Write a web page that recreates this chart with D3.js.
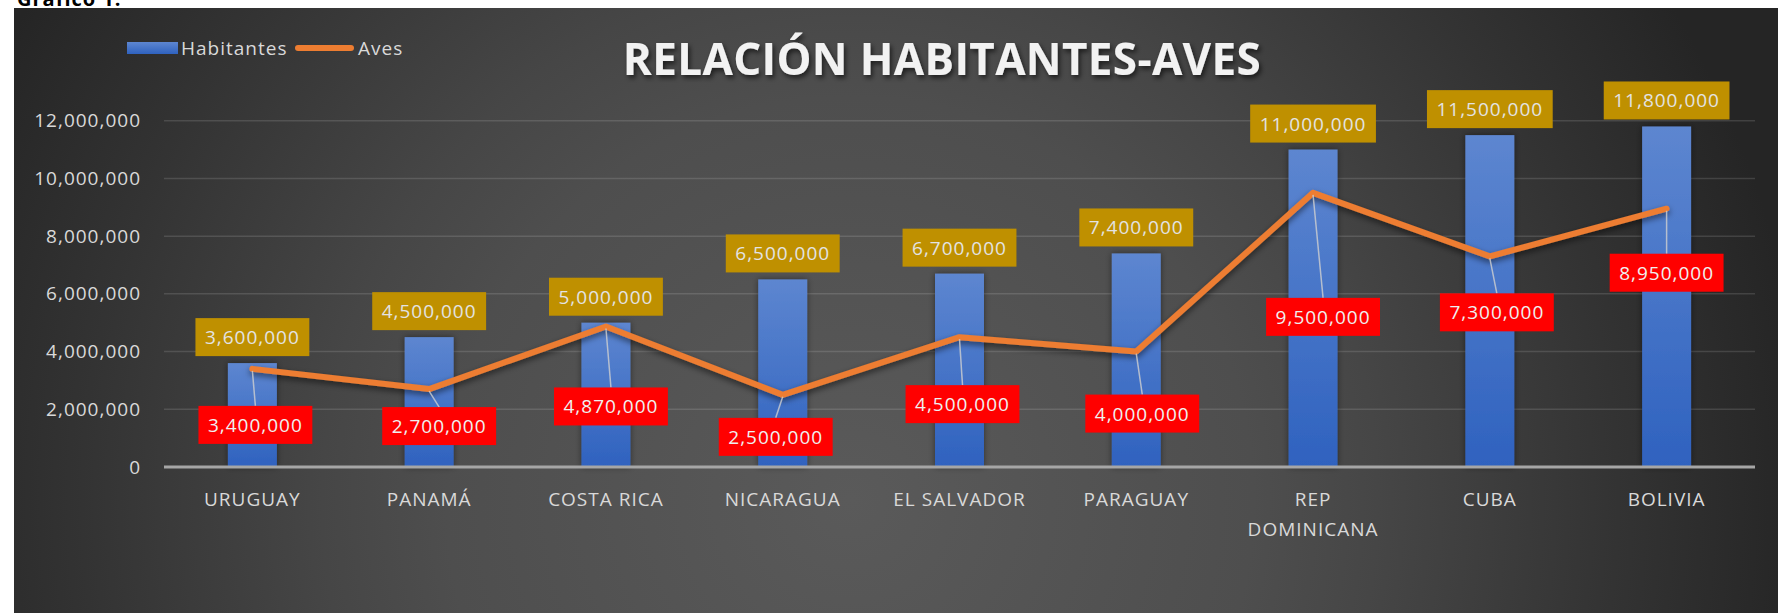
<!DOCTYPE html>
<html>
<head>
<meta charset="utf-8">
<script src="https://cdn.jsdelivr.net/npm/d3@7"></script>
<style>
  html, body { margin: 0; padding: 0; background: #fff; }
  svg { display: block; }
  text { font-family: "Open Sans", "Noto Sans", sans-serif; }
</style>
</head>
<body>
<svg id="chart" width="1778" height="613"></svg>
<script>
// data
const categories = ['URUGUAY', 'PANAMÁ', 'COSTA RICA', 'NICARAGUA', 'EL SALVADOR', 'PARAGUAY', 'REP DOMINICANA', 'CUBA', 'BOLIVIA'];
const habitantes = [3600000, 4500000, 5000000, 6500000, 6700000, 7400000, 11000000, 11500000, 11800000];
const aves = [3400000, 2700000, 4870000, 2500000, 4500000, 4000000, 9500000, 7300000, 8950000];
const yTicks = [0, 2000000, 4000000, 6000000, 8000000, 10000000, 12000000];
const seriesNames = ['Habitantes', 'Aves'];

const width = 1778;
const height = 613;
const plot = { left: 164, right: 1755, top: 120.7, bottom: 467 };

const svg = d3.select('#chart');
const defs = svg.append('defs');

// background gradient
const bg = defs.append('radialGradient')
  .attr('id', 'bg')
  .attr('gradientUnits', 'userSpaceOnUse')
  .attr('cx', 850).attr('cy', 500).attr('r', 960);
[[0, '#5a5a5a'], [0.42, '#4e4e4e'], [0.55, '#464646'], [0.8, '#333333'], [1, '#252525']]
  .forEach(([o, c]) => bg.append('stop').attr('offset', o).attr('stop-color', c));

const barGrad = defs.append('linearGradient')
  .attr('id', 'barGrad')
  .attr('x1', 0).attr('y1', 0).attr('x2', 0).attr('y2', 1);
barGrad.append('stop').attr('offset', 0).attr('stop-color', '#5d86d0');
barGrad.append('stop').attr('offset', 1).attr('stop-color', '#2f62bf');

const shadow = defs.append('filter').attr('id', 'shadow')
  .attr('x', '-20%').attr('y', '-20%').attr('width', '140%').attr('height', '160%');
shadow.append('feDropShadow')
  .attr('dx', 0).attr('dy', 3).attr('stdDeviation', 3)
  .attr('flood-color', '#000').attr('flood-opacity', 0.55);

const barShadow = defs.append('filter').attr('id', 'barShadow')
  .attr('x', '-30%').attr('y', '-10%').attr('width', '160%').attr('height', '120%');
barShadow.append('feDropShadow')
  .attr('dx', 0).attr('dy', 0).attr('stdDeviation', 3)
  .attr('flood-color', '#000').attr('flood-opacity', 0.45);

const titleShadow = defs.append('filter').attr('id', 'titleShadow')
  .attr('x', '-10%').attr('y', '-30%').attr('width', '120%').attr('height', '170%');
titleShadow.append('feDropShadow')
  .attr('dx', 2).attr('dy', 3).attr('stdDeviation', 2.5)
  .attr('flood-color', '#000').attr('flood-opacity', 0.6);

// figure caption, cut off at the top
svg.append('text')
  .attr('x', 17).attr('y', 6)
  .attr('font-size', 20).attr('font-weight', 'bold')
  .attr('letter-spacing', 1)
  .attr('fill', '#000')
  .text('Gráfico 1.');

svg.append('rect')
  .attr('x', 14).attr('y', 8)
  .attr('width', width - 14).attr('height', height - 8)
  .attr('fill', 'url(#bg)');

// scales
const x = d3.scaleBand()
  .domain(categories)
  .range([plot.left, plot.right])
  .padding(0);

const y = d3.scaleLinear()
  .domain([0, 12000000])
  .range([plot.bottom, plot.top]);

const fmt = d3.format(',');
const barW = x.bandwidth() * 0.277;
const cx = (d) => x(d) + x.bandwidth() / 2;

// gridlines
svg.append('g')
  .selectAll('line')
  .data(yTicks.filter((t) => t > 0))
  .enter()
  .append('line')
  .attr('x1', plot.left).attr('x2', plot.right)
  .attr('y1', (d) => y(d)).attr('y2', (d) => y(d))
  .attr('stroke', '#ffffff').attr('stroke-opacity', 0.13)
  .attr('stroke-width', 1.5);

// y axis labels
const yAxis = svg.append('g')
  .attr('transform', `translate(${plot.left - 23},0)`)
  .call(d3.axisLeft(y).tickValues(yTicks).tickFormat(fmt).tickSize(0).tickPadding(0));
yAxis.select('.domain').remove();
yAxis.selectAll('text')
  .attr('fill', '#d9d9d9')
  .attr('font-size', 19)
  .attr('letter-spacing', 1)
  .attr('font-family', '"Open Sans", sans-serif');

// bars
svg.append('g')
  .selectAll('rect')
  .data(categories)
  .enter()
  .append('rect')
  .attr('x', (d) => cx(d) - barW / 2)
  .attr('y', (d, i) => y(habitantes[i]))
  .attr('width', barW)
  .attr('height', (d, i) => y(0) - y(habitantes[i]))
  .attr('fill', 'url(#barGrad)')
  .attr('filter', 'url(#barShadow)');

// baseline
svg.append('line')
  .attr('x1', plot.left).attr('x2', plot.right)
  .attr('y1', y(0)).attr('y2', y(0))
  .attr('stroke', '#a6a6a6').attr('stroke-width', 3);

// category labels
const catLabels = svg.append('g')
  .selectAll('text')
  .data(categories)
  .enter()
  .append('text')
  .attr('text-anchor', 'middle')
  .attr('font-size', 19)
  .attr('letter-spacing', 1)
  .attr('fill', '#d9d9d9')
  .attr('x', (d) => cx(d))
  .attr('y', 506);

catLabels.each(function (d) {
  const t = d3.select(this);
  t.text(d);
  if (this.getComputedTextLength() > 160) {
    t.text(null);
    d.split(' ').forEach((w, k) => {
      t.append('tspan').attr('x', cx(d)).attr('dy', k === 0 ? 0 : 29.5).text(w);
    });
  }
});

// aves line
const line = d3.line()
  .x((d, i) => cx(categories[i]))
  .y((d) => y(d));

svg.append('path')
  .datum(aves)
  .attr('d', line)
  .attr('fill', 'none')
  .attr('stroke', '#ed7d31')
  .attr('stroke-width', 6)
  .attr('stroke-linejoin', 'round')
  .attr('stroke-linecap', 'round')
  .attr('filter', 'url(#shadow)');

// data labels
const padX = 9.5;
const boxH = 38;

const drawLabel = (g, cxp, cyp, txt, fill, textFill) => {
  const t = g.append('text')
    .attr('x', cxp).attr('y', cyp + 7)
    .attr('text-anchor', 'middle')
    .attr('font-size', 19)
    .attr('letter-spacing', 1)
    .attr('fill', textFill)
    .text(txt);
  const w = t.node().getComputedTextLength() + padX * 2;
  g.insert('rect', 'text')
    .attr('x', cxp - w / 2).attr('y', cyp - boxH / 2)
    .attr('width', w).attr('height', boxH)
    .attr('fill', fill);
};

// habitantes labels above bars
categories.forEach((c, i) => {
  const g = svg.append('g');
  drawLabel(g, cx(c), y(habitantes[i]) - 7 - boxH / 2, fmt(habitantes[i]), '#bf9000', '#e3e3e3');
});

// aves labels, moved by hand like in the original sheet
const aveLabelNudge = [[3, 56], [10, 37], [5, 80], [-7, 42], [3, 67], [6, 62], [10, 124], [7, 56], [0, 64]];

categories.forEach((c, i) => {
  const px = cx(c);
  const py = y(aves[i]);
  const lx = px + aveLabelNudge[i][0];
  const ly = py + aveLabelNudge[i][1];
  svg.append('line')
    .attr('x1', px).attr('y1', py + 2)
    .attr('x2', lx).attr('y2', ly - boxH / 2)
    .attr('stroke', '#d0d0d0').attr('stroke-opacity', 0.8)
    .attr('stroke-width', 1.5);
  const g = svg.append('g');
  drawLabel(g, lx, ly, fmt(aves[i]), '#ff0000', '#f0f0f0');
});

// legend
const legend = svg.append('g');
legend.append('rect')
  .attr('x', 127).attr('y', 42)
  .attr('width', 51).attr('height', 12)
  .attr('fill', 'url(#barGrad)');
legend.append('text')
  .attr('x', 181).attr('y', 55)
  .attr('font-size', 19).attr('letter-spacing', 1)
  .attr('fill', '#d9d9d9')
  .text(seriesNames[0]);
legend.append('line')
  .attr('x1', 298).attr('x2', 351)
  .attr('y1', 48).attr('y2', 48)
  .attr('stroke', '#ed7d31').attr('stroke-width', 6)
  .attr('stroke-linecap', 'round');
legend.append('text')
  .attr('x', 358).attr('y', 55)
  .attr('font-size', 19).attr('letter-spacing', 1)
  .attr('fill', '#d9d9d9')
  .text(seriesNames[1]);

// title
const title = svg.append('text')
  .attr('x', 942).attr('y', 75)
  .attr('text-anchor', 'middle')
  .attr('font-size', 44)
  .attr('font-weight', 'bold')
  .attr('fill', '#f2f2f2')
  .attr('filter', 'url(#titleShadow)')
  .text('RELACIÓN HABITANTES-AVES');
const natural = title.node().getComputedTextLength();
const spacing = (638 - natural) / 23;
title.attr('letter-spacing', spacing);
</script>
</body>
</html>
